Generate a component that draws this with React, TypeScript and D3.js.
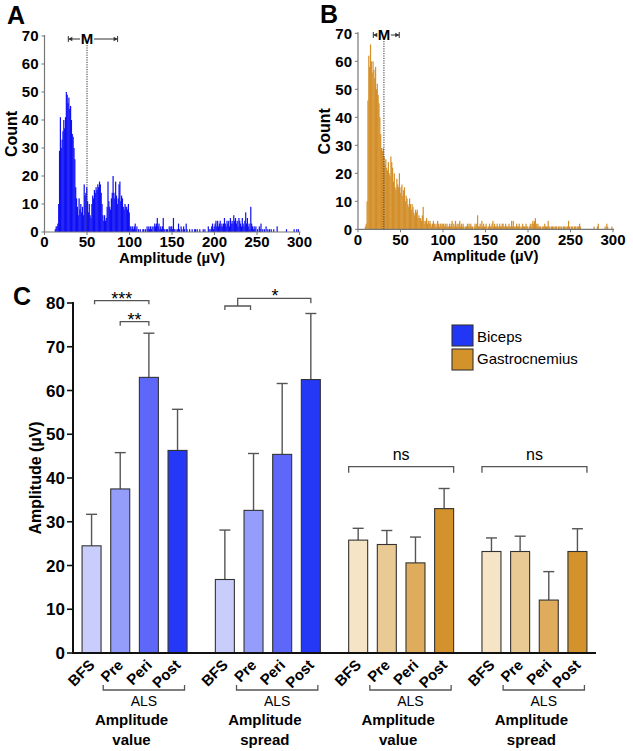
import React from "react";
import * as d3 from "d3";

// ---------- Panel A / B histogram data (1 µV bins, 0..299) ----------
const histA: number[] = [
  0,0,0,0,0,0,0,0,0,0,
  0,0,1,2,2,3,10,29,41,30,
  33,36,40,37,41,50,49,46,48,44,
  45,40,35,34,30,26,16,12,9,6,
  12,8,10,7,9,6,17,13,14,16,
  11,7,10,6,5,10,13,12,15,14,
  16,15,17,16,18,17,14,10,6,4,
  6,4,5,9,18,11,9,8,12,14,
  20,14,12,18,13,10,12,17,18,11,
  13,12,9,8,10,9,9,8,10,7,
  2,2,1,2,1,2,3,1,2,0,
  1,0,1,0,0,1,1,0,1,0,
  2,1,2,1,2,1,2,0,2,3,
  2,3,5,2,3,1,2,1,2,5,
  1,1,0,1,1,0,2,1,2,2,
  1,5,1,0,1,0,1,3,1,0,
  2,1,0,2,1,0,3,1,0,0,
  1,0,0,1,0,0,1,1,0,1,
  0,0,1,0,0,0,1,0,1,0,
  0,0,2,1,0,1,2,3,1,2,
  3,4,2,4,2,3,4,2,3,2,
  3,5,3,2,4,3,4,2,5,3,
  4,3,6,4,5,3,4,2,5,4,
  3,2,5,3,2,4,7,3,5,2,
  3,1,9,3,2,1,2,1,2,0,
  1,0,2,1,3,0,1,0,1,0,
  2,0,1,0,1,0,1,0,0,1,
  0,0,0,2,0,0,0,0,0,0,
  0,0,0,0,1,0,0,0,0,0,
  0,0,0,1,0,0,1,0,1,0,
];

const histB: number[] = [
  0,0,0,0,0,0,0,0,1,2,
  10,46,62,58,66,60,56,60,57,54,
  58,50,52,48,45,40,34,29,28,29,
  26,23,25,22,21,24,20,19,26,24,
  22,17,20,15,14,18,16,15,20,13,
  15,16,12,14,15,10,12,11,9,8,
  11,9,7,9,8,6,5,7,6,7,
  4,5,4,4,3,5,8,3,2,3,
  4,2,3,2,3,2,1,2,3,2,
  1,2,1,3,2,1,2,2,1,2,
  2,1,2,1,2,1,1,2,1,2,
  3,1,2,1,3,1,2,1,2,3,
  1,2,1,2,1,0,1,1,2,1,
  2,1,2,1,1,0,1,2,1,2,
  5,1,1,2,1,3,1,2,1,1,
  2,1,0,1,2,1,1,2,3,1,
  2,1,1,2,1,1,2,1,1,2,
  2,1,1,2,1,1,1,2,1,1,
  3,1,3,1,1,1,2,1,1,2,
  1,0,1,2,1,1,1,2,1,1,
  0,1,2,1,2,3,2,3,4,2,
  1,2,1,1,1,0,1,1,1,2,
  1,1,1,3,1,1,0,1,1,1,
  0,1,1,1,0,1,1,0,1,1,
  0,1,1,1,0,1,1,3,1,0,
  1,1,1,0,1,1,0,1,1,1,
  2,1,0,0,0,0,0,0,0,0,
  0,0,0,0,0,0,0,1,0,0,
  0,1,2,0,0,0,0,0,0,0,
  1,0,2,1,0,0,0,0,1,0,
];

const histXTicks = [0, 50, 100, 150, 200, 250, 300];
const histYTicks = [0, 10, 20, 30, 40, 50, 60, 70];
// median marker (M) with its range, in µV
const markerA = [28, 50, 86];
const markerB = [18, 30.5, 48.5];

// ---------- Panel C data ----------
const conditions = ["BFS", "Pre", "Peri", "Post"];
const groupMuscle = ["Biceps", "Biceps", "Gastrocnemius", "Gastrocnemius"];
const groupTitleTop = ["Amplitude", "Amplitude", "Amplitude", "Amplitude"];
const groupTitleBottom = ["value", "spread", "value", "spread"];
const barMeans = [
  [24.5, 37.5, 63.0, 46.3],
  [16.8, 32.6, 45.4, 62.5],
  [25.8, 24.8, 20.6, 33.0],
  [23.2, 23.2, 12.1, 23.2],
];
const barErrTop = [
  [31.7, 45.8, 73.1, 55.7],
  [28.1, 45.6, 61.6, 77.6],
  [28.5, 28.0, 26.5, 37.6],
  [26.3, 26.7, 18.6, 28.4],
];
const bicepsColors = ["#c9cdfb", "#959dfa", "#5d68f8", "#2438f6"];
const gastroColors = ["#f5e4c6", "#e9c994", "#deac5c", "#d3922b"];
const legendLabels = ["Biceps", "Gastrocnemius"];
const legendColors = ["#2236f5", "#d4922a"];
const barYTicks = [0, 10, 20, 30, 40, 50, 60, 70, 80];

const FONT = "'Liberation Sans', Arial, Helvetica, sans-serif";
const GRAY = "#555";

function Histogram(props: {
  data: number[];
  x0: number; x1: number; yBase: number; yTop: number;
  color: string; marker: number[]; markerY: number;
  letter: string; letterX: number; letterY: number;
  countX: number; tickY: number; titleY: number;
}) {
  const { data, x0, x1, yBase, yTop, color, marker, markerY } = props;
  const x = d3.scaleLinear().domain([0, 300]).range([x0, x1]);
  const y = d3.scaleLinear().domain([0, 70]).range([yBase, yTop]);
  const [lo, mid, hi] = marker;
  const xm = x(mid);
  return (
    <g>
      <text x={props.letterX} y={props.letterY} fontFamily={FONT} fontWeight="bold" fontSize={25}>{props.letter}</text>
      {data.map((c, i) =>
        c > 0 ? (
          <rect key={i} x={x(i)} width={x(i + 1) - x(i) + 0.35} y={y(c)} height={yBase - y(c)} fill={color} />
        ) : null
      )}
      {/* axes */}
      <line x1={x0} x2={x0} y1={yBase} y2={yTop - 1} stroke="#777" strokeWidth={1.2} />
      <line x1={x0} x2={x1 + 1} y1={yBase} y2={yBase} stroke="#777" strokeWidth={1.2} />
      {histYTicks.map((t) => (
        <g key={t}>
          <line x1={x0 - 3} x2={x0} y1={y(t)} y2={y(t)} stroke="#777" strokeWidth={1} />
          <text x={x0 - 6} y={y(t)} dy="0.36em" textAnchor="end" fontFamily={FONT} fontWeight="bold" fontSize={15}>{t}</text>
        </g>
      ))}
      {histXTicks.map((t) => (
        <g key={t}>
          <line x1={x(t)} x2={x(t)} y1={yBase} y2={yBase + 3} stroke="#777" strokeWidth={1} />
          <text x={x(t)} y={props.tickY} textAnchor="middle" fontFamily={FONT} fontWeight="bold" fontSize={15}>{t}</text>
        </g>
      ))}
      <text transform={`translate(${props.countX},${(yBase + yTop) / 2}) rotate(-90)`} textAnchor="middle" dy="0.36em" fontFamily={FONT} fontWeight="bold" fontSize={16}>Count</text>
      <text x={(x0 + x1) / 2} y={props.titleY} textAnchor="middle" fontFamily={FONT} fontWeight="bold" fontSize={15}>Amplitude (µV)</text>
      {/* median marker */}
      <line x1={xm} x2={xm} y1={markerY + 6} y2={yBase} stroke="#333" strokeWidth={1} strokeDasharray="1.2,1.2" />
      <line x1={x(lo)} x2={xm - 7} y1={markerY} y2={markerY} stroke="#333" strokeWidth={1} />
      <line x1={xm + 7} x2={x(hi)} y1={markerY} y2={markerY} stroke="#333" strokeWidth={1} />
      <line x1={x(lo)} x2={x(lo)} y1={markerY - 3} y2={markerY + 3} stroke="#333" strokeWidth={1} />
      <line x1={x(hi)} x2={x(hi)} y1={markerY - 3} y2={markerY + 3} stroke="#333" strokeWidth={1} />
      <path d={`M${x(lo)},${markerY} l4,-2.2 l0,4.4 Z`} fill="#333" />
      <path d={`M${x(hi)},${markerY} l-4,-2.2 l0,4.4 Z`} fill="#333" />
      <text x={xm} y={markerY} dy="0.36em" textAnchor="middle" fontFamily={FONT} fontWeight="bold" fontSize={15}>M</text>
    </g>
  );
}

function BarPanel() {
  const xL = 73, xR = 596, yBase = 653, yTop = 303;
  const y = d3.scaleLinear().domain([0, 80]).range([yBase, yTop]);
  const xGroup = d3.scaleBand<number>().domain(d3.range(4)).range([xL, xR]).paddingInner(0.2125).paddingOuter(0.068);
  const xCond = d3.scaleBand<string>().domain(conditions).range([0, xGroup.bandwidth()]).paddingInner(0.337).paddingOuter(0);
  const bw = xCond.bandwidth();
  const cx = (g: number, c: number) => (xGroup(g) as number) + (xCond(conditions[c]) as number) + bw / 2;
  const bracket = (xa: number, xb: number, yy: number, drop: number) =>
    `M${xa},${yy + drop} V${yy} H${xb} V${yy + drop}`;
  return (
    <g fontFamily={FONT}>
      <text x={13} y={305} fontWeight="bold" fontSize={25}>C</text>
      {/* bars */}
      {barMeans.map((vals, g) =>
        vals.map((v, c) => {
          const xs = (xGroup(g) as number) + (xCond(conditions[c]) as number);
          const colors = groupMuscle[g] === "Biceps" ? bicepsColors : gastroColors;
          const xc = xs + bw / 2;
          return (
            <g key={`${g}-${c}`}>
              <line x1={xc} x2={xc} y1={y(v)} y2={y(barErrTop[g][c])} stroke={GRAY} strokeWidth={1.4} />
              <line x1={xc - 5.5} x2={xc + 5.5} y1={y(barErrTop[g][c])} y2={y(barErrTop[g][c])} stroke={GRAY} strokeWidth={1.4} />
              <rect x={xs} y={y(v)} width={bw} height={yBase - y(v)} fill={colors[c]} stroke="#333" strokeWidth={1.1} />
            </g>
          );
        })
      )}
      {/* axes */}
      <line x1={xL} x2={xL} y1={yBase} y2={yTop - 1} stroke="#111" strokeWidth={2} />
      <line x1={xL - 1} x2={xR} y1={yBase} y2={yBase} stroke="#111" strokeWidth={2} />
      {barYTicks.map((t) => (
        <g key={t}>
          <line x1={xL - 6} x2={xL} y1={y(t)} y2={y(t)} stroke="#111" strokeWidth={1.6} />
          <text x={xL - 8} y={y(t)} dy="0.36em" textAnchor="end" fontWeight="bold" fontSize={17}>{t}</text>
        </g>
      ))}
      <text transform={`translate(35,${(yBase + yTop) / 2}) rotate(-90)`} textAnchor="middle" dy="0.36em" fontWeight="bold" fontSize={16}>Amplitude (µV)</text>
      {/* x category labels */}
      {d3.range(4).map((g) => (
        <g key={g}>
          {conditions.map((c, ci) => (
            <text key={c} transform={`translate(${cx(g, ci) + 4},${yBase + 13}) rotate(-45)`} textAnchor="end" fontWeight="bold" fontSize={15}>{c}</text>
          ))}
          <path d={bracket(cx(g, 1) - 17, cx(g, 3) + 7, 690, -5)} fill="none" stroke={GRAY} strokeWidth={1.3} />
          <text x={(cx(g, 1) - 17 + cx(g, 3) + 7) / 2} y={706} textAnchor="middle" fontSize={14}>ALS</text>
          <text x={(xGroup(g) as number) + xGroup.bandwidth() / 2 - 3} y={725} textAnchor="middle" fontWeight="bold" fontSize={15}>{groupTitleTop[g]}</text>
          <text x={(xGroup(g) as number) + xGroup.bandwidth() / 2 - 3} y={745} textAnchor="middle" fontWeight="bold" fontSize={15}>{groupTitleBottom[g]}</text>
        </g>
      ))}
      {/* significance */}
      <path d={bracket(cx(0, 0) + 3, cx(0, 2), 300.7, 3.5)} fill="none" stroke={GRAY} strokeWidth={1.3} />
      <text x={(cx(0, 0) + 3 + cx(0, 2)) / 2} y={304.5} textAnchor="middle" fontSize={18}>***</text>
      <path d={bracket(cx(0, 1), cx(0, 2), 321.7, 4)} fill="none" stroke={GRAY} strokeWidth={1.3} />
      <text x={(cx(0, 1) + cx(0, 2)) / 2} y={325.5} textAnchor="middle" fontSize={18}>**</text>
      <path d={bracket(cx(1, 0), cx(1, 1) - 3, 306, 4)} fill="none" stroke={GRAY} strokeWidth={1.3} />
      <path d={`M${(cx(1, 0) + cx(1, 1) - 3) / 2},306 V298.3 H${cx(1, 3)} V303.3`} fill="none" stroke={GRAY} strokeWidth={1.3} />
      <text x={275} y={301.5} textAnchor="middle" fontSize={18}>*</text>
      {[2, 3].map((g) => {
        const a = xGroup(g) as number;
        const b = a + xGroup.bandwidth();
        return (
          <g key={g}>
            <path d={bracket(a, b, 466.7, 6)} fill="none" stroke={GRAY} strokeWidth={1.3} />
            <text x={(a + b) / 2} y={460} textAnchor="middle" fontSize={16}>ns</text>
          </g>
        );
      })}
      {/* legend */}
      {legendLabels.map((l, i) => (
        <g key={l}>
          <rect x={452} y={325 + i * 24} width={21} height={21} fill={legendColors[i]} stroke="#333" strokeWidth={1.1} />
          <text x={477} y={341.5 + i * 22.5} fontSize={15}>{l}</text>
        </g>
      ))}
    </g>
  );
}

export default function App() {
  return (
    <svg width={633} height={751} viewBox="0 0 633 751" style={{ position: "absolute", left: 0, top: 0, background: "#fff" }}>
      <rect width={633} height={751} fill="#fff" />
      <Histogram data={histA} x0={44.5} x1={299.5} yBase={232} yTop={36} color="#1010f5"
        marker={markerA} markerY={39} letter="A" letterX={7} letterY={24} countX={11} tickY={247} titleY={263} />
      <Histogram data={histB} x0={358} x1={613} yBase={229.3} yTop={33.3} color="#d38f2a"
        marker={markerB} markerY={35} letter="B" letterX={320} letterY={23} countX={324} tickY={245} titleY={261} />
      <BarPanel />
    </svg>
  );
}
